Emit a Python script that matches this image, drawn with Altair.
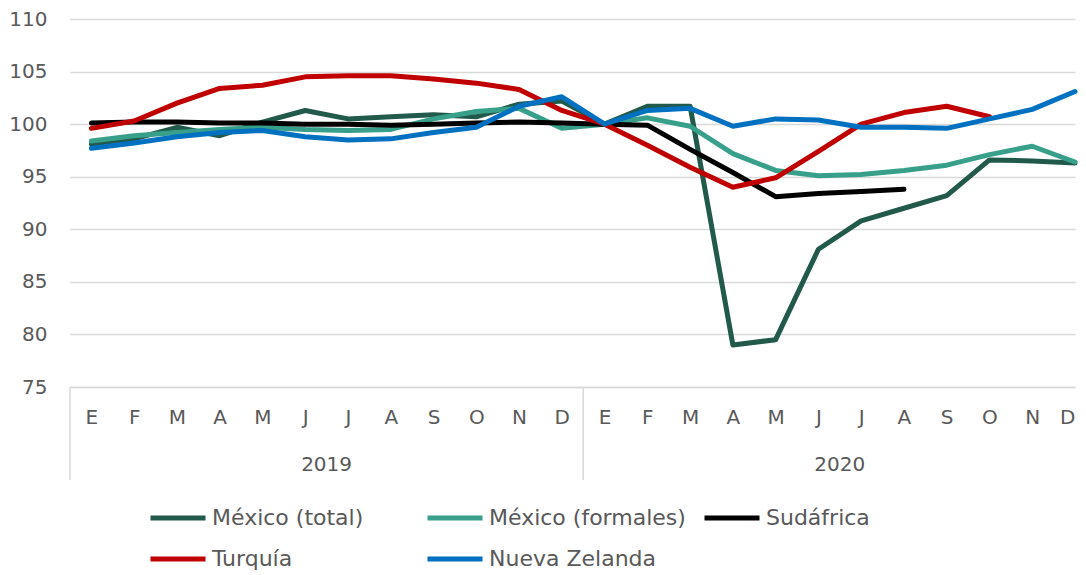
import altair as alt
import pandas as pd

months = ["E", "F", "M", "A", "M", "J", "J", "A", "S", "O", "N", "D"]
years = ["2019", "2020"]
series_names = ["México (total)", "México (formales)", "Sudáfrica", "Turquía", "Nueva Zelanda"]
colors = ["#215a4b", "#38a08a", "#000000", "#c00000", "#0070c0"]

mex_total = [98.1, 98.6, 99.7, 98.9, 100.2, 101.3, 100.5, 100.7, 100.9, 100.7, 101.9, 102.2,
             100.0, 101.7, 101.7, 79.0, 79.5, 88.1, 90.8, 92.0, 93.2, 96.6, 96.5, 96.3]
mex_formal = [98.4, 98.9, 99.2, 99.5, 99.7, 99.5, 99.4, 99.5, 100.5, 101.2, 101.5, 99.6,
              100.0, 100.6, 99.8, 97.2, 95.6, 95.1, 95.2, 95.6, 96.1, 97.1, 97.9, 96.4]
sudafrica = [100.1, 100.2, 100.2, 100.1, 100.1, 100.0, 100.0, 99.9, 100.0, 100.1, 100.2, 100.1,
             100.0, 99.9, 97.6, 95.4, 93.1, 93.4, 93.6, 93.8, None, None, None, None]
turquia = [99.6, 100.3, 102.0, 103.4, 103.7, 104.5, 104.6, 104.6, 104.3, 103.9, 103.3, 101.3,
           100.0, 98.0, 95.9, 94.0, 94.9, 97.4, 100.0, 101.1, 101.7, 100.7, None, None]
nueva_zelanda = [97.7, 98.2, 98.8, 99.2, 99.4, 98.8, 98.5, 98.6, 99.2, 99.7, 101.7, 102.6,
                 100.0, 101.3, 101.5, 99.8, 100.5, 100.4, 99.7, 99.7, 99.6, 100.5, 101.4, 103.1]

all_series = [mex_total, mex_formal, sudafrica, turquia, nueva_zelanda]
rows = []
for name, vals in zip(series_names, all_series):
    for i, v in enumerate(vals):
        if v is not None:
            rows.append({"serie": name, "idx": i, "valor": v})
df = pd.DataFrame(rows)

FONT = "DejaVu Sans"
GREY = "#595959"
GRID = "#d9d9d9"

xscale = alt.Scale(domain=[-0.5, 23.0], nice=False, zero=False)
yscale = alt.Scale(domain=[75, 110], nice=False, zero=False)

label_expr = "[" + ",".join("'%s'" % m for m in months * 2) + "][datum.value]"

lines = alt.Chart(df).mark_line(strokeWidth=5, strokeCap="round", strokeJoin="round",
                                clip=False).encode(
    x=alt.X("idx:Q", scale=xscale,
            axis=alt.Axis(values=list(range(24)), labelExpr=label_expr, title=None,
                          ticks=False, grid=False, domain=True, domainColor=GRID,
                          domainWidth=1.5, labelPadding=20, labelFontSize=20,
                          labelColor=GREY, labelFont=FONT, labelFontWeight="normal",
                          labelAlign=alt.condition("datum.value == 23",
                                                   alt.value("right"), alt.value("center")),
                          labelFlush=False, labelOverlap=False, labelBound=False)),
    y=alt.Y("valor:Q", scale=yscale,
            axis=alt.Axis(values=list(range(75, 111, 5)), title=None, ticks=False,
                          domain=False, grid=True, gridColor=GRID, gridWidth=1.5,
                          labelPadding=23, labelFontSize=20, labelColor=GREY,
                          labelFont=FONT)),
    color=alt.Color("serie:N", sort=series_names,
                    scale=alt.Scale(domain=series_names, range=colors),
                    legend=alt.Legend(title=None, orient="none", legendX=78, legendY=469,
                                      direction="horizontal", columns=3, gridAlign="all",
                                      symbolType="stroke", symbolSize=3025,
                                      symbolStrokeWidth=5, labelFontSize=22,
                                      labelColor=GREY, labelFont=FONT, labelOffset=4,
                                      columnPadding=8, rowPadding=-10, padding=0,
                                      labelLimit=400)),
    detail="serie:N",
)

sep_df = pd.DataFrame({"pos": [-0.5, 11.5]})
seps = alt.Chart(sep_df).mark_rule(color=GRID, strokeWidth=1.5).encode(
    x=alt.X("pos:Q", scale=xscale),
    y=alt.value(368),
    y2=alt.value(461),
)

year_df = pd.DataFrame({"year": years, "pos": [5.5, 17.5]})
year_text = alt.Chart(year_df).mark_text(fontSize=20, color=GREY, font=FONT,
                                         baseline="middle", align="center").encode(
    x=alt.X("pos:Q", scale=xscale),
    y=alt.value(446),
    text="year:N",
)

chart = alt.layer(seps, lines, year_text).properties(
    width=1005, height=368,
    autosize=alt.AutoSizeParams(type="none"),
    padding={"left": 62, "top": 11, "right": 3, "bottom": 188},
).configure_view(stroke=None)

chart.save("out.html", embed_options={"renderer": "svg", "actions": False})
